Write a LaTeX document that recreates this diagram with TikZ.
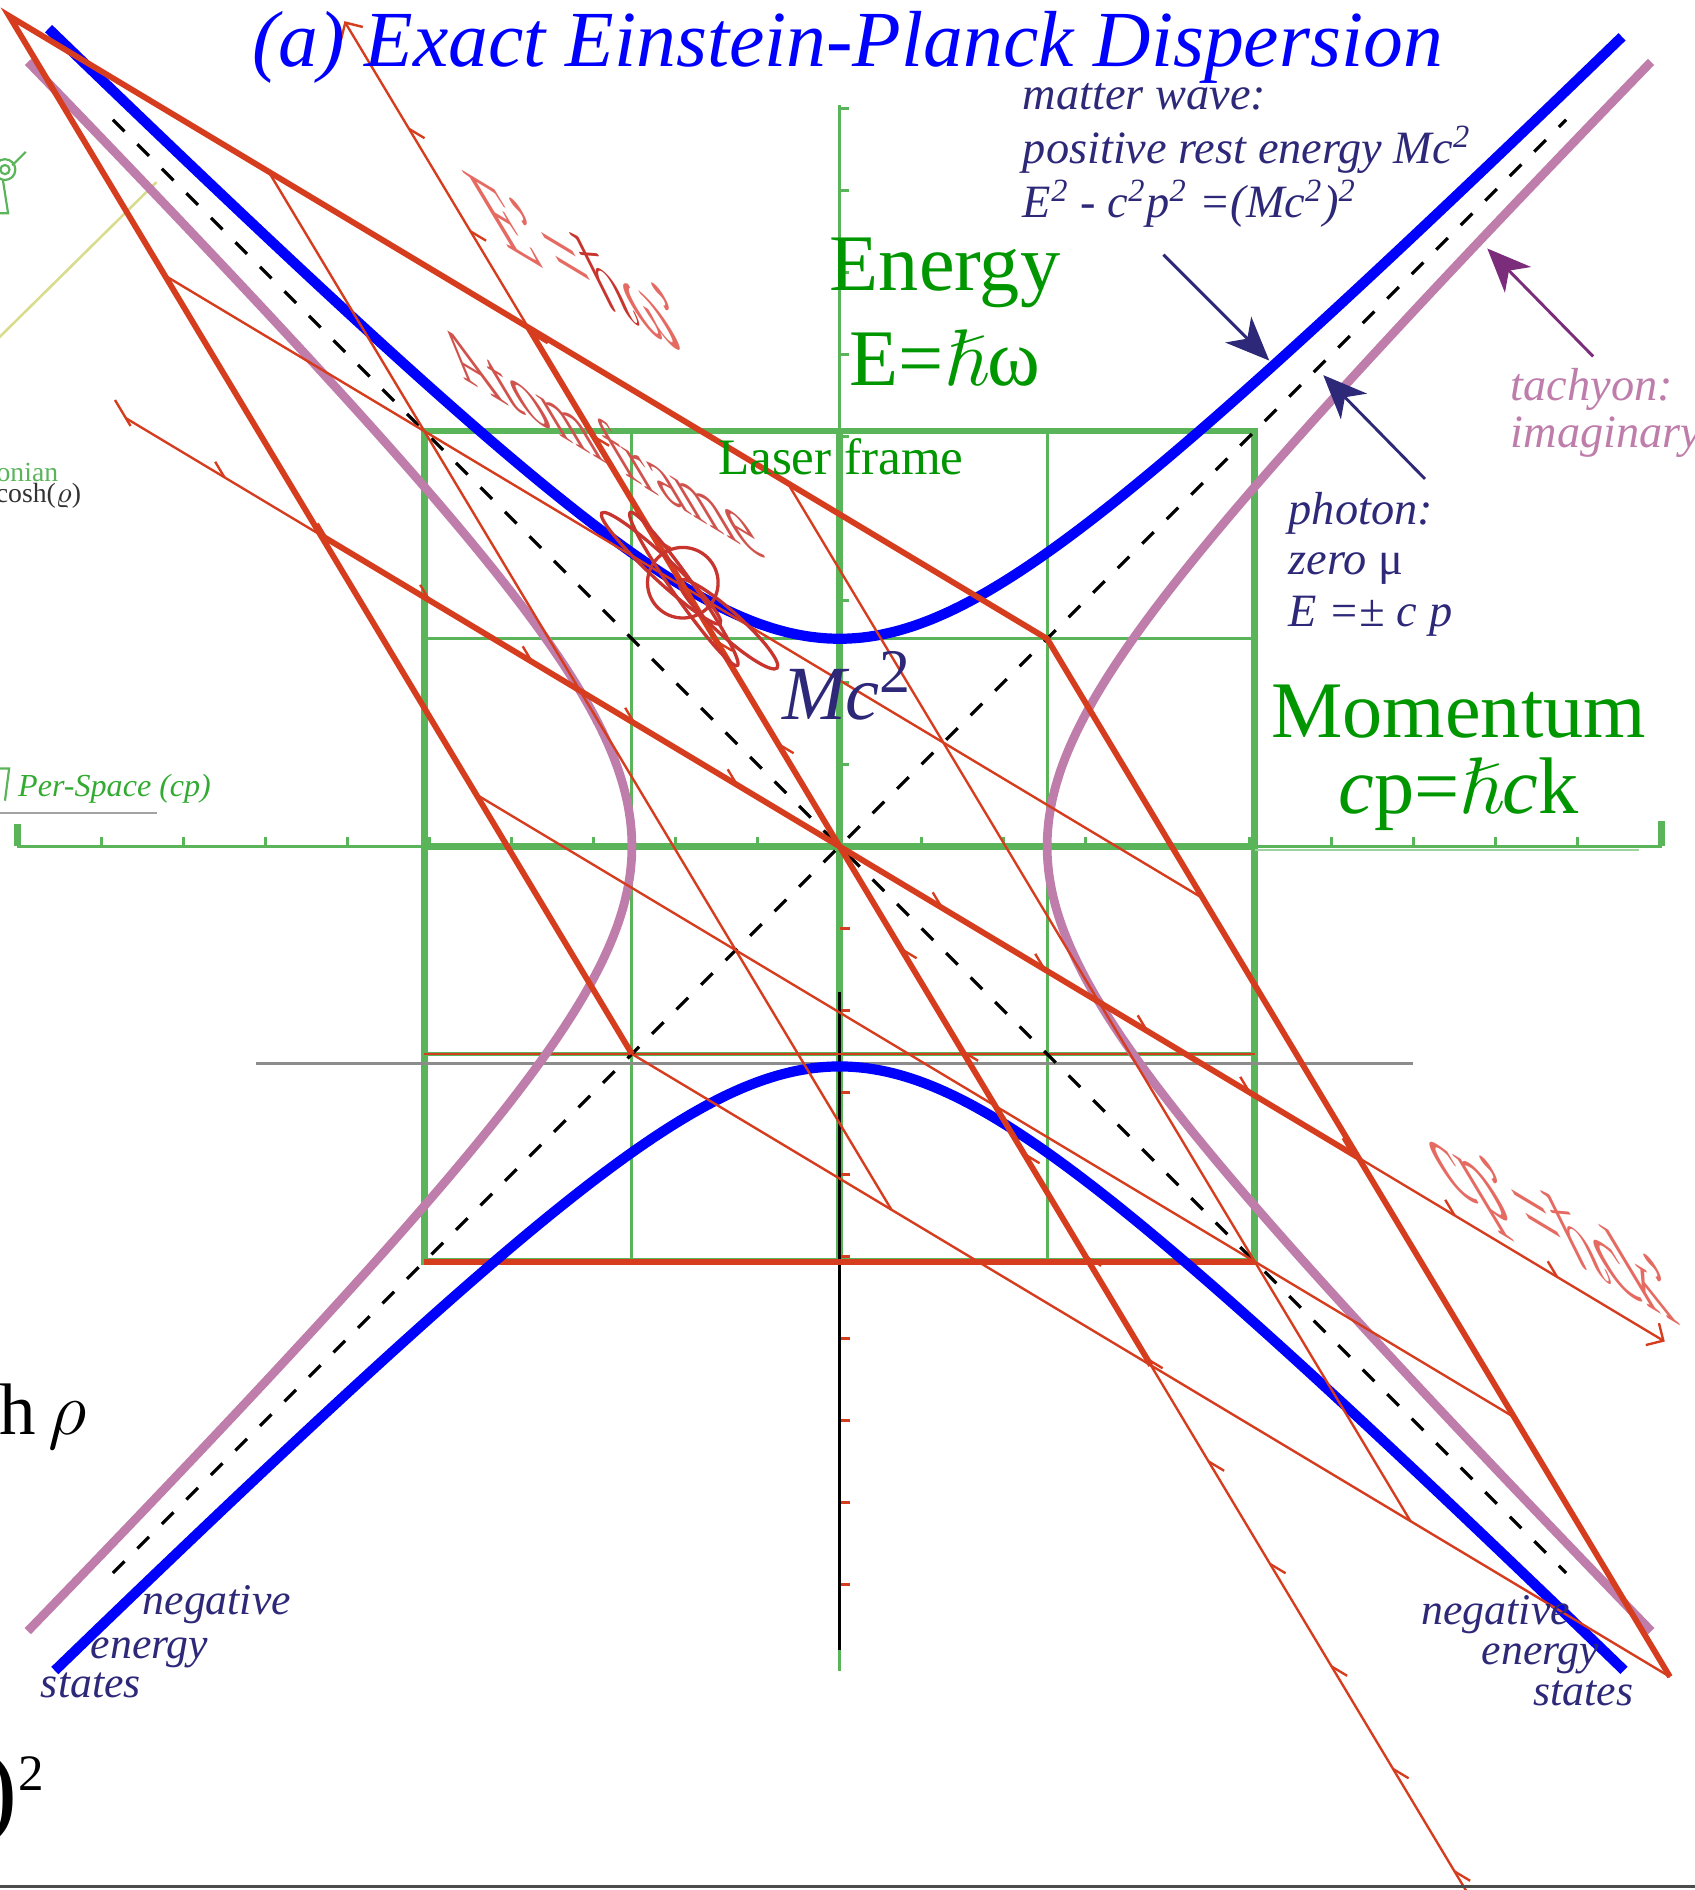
\documentclass[tikz,border=0pt]{standalone}
\usepackage{amsmath,amssymb}
\usepackage{fontspec}
\setmainfont{Liberation Serif}
\usetikzlibrary{arrows.meta, positioning, calc}
\definecolor{matterblue}{HTML}{0000FF}
\definecolor{tachmauve}{HTML}{BE7DAA}
\definecolor{tachplum}{HTML}{7B2D7B}
\definecolor{atomred}{HTML}{D63C1E}
\definecolor{orbitred}{HTML}{C8342E}
\definecolor{paleatom}{HTML}{E46A62}
\definecolor{gridgreen}{HTML}{5AB45A}
\definecolor{labelgreen}{HTML}{009600}
\definecolor{notenavy}{HTML}{2D2878}
\definecolor{axisgray}{HTML}{8C8C8C}
\definecolor{paleyellow}{HTML}{D8DC8C}
\newcommand{\setfs}[2]{\fontsize{#1}{#2}\selectfont}
\tikzset{
  matter/.style={matterblue, line width=2.8pt},
  tachyon/.style={tachmauve, line width=2.4pt},
  lightcone/.style={black, line width=0.9pt, dash pattern=on 4.5pt off 5pt},
  labthick/.style={gridgreen, line width=1.8pt},
  labthin/.style={gridgreen, line width=0.85pt},
  atomthick/.style={atomred, line width=1.6pt},
  atomthin/.style={atomred, line width=0.65pt},
  orbit/.style={orbitred, line width=0.9pt},
  boost/.style={cm={1.25,-0.75,-0.75,1.25,(0,0)}},
  pointer/.style={-{Stealth[length=12pt, width=10pt, inset=3.5pt]}, line width=0.8pt},
  note/.style={text=notenavy, font=\itshape\setfs{12.7}{15}, inner sep=0pt, anchor=base west},
  corner/.style={note, font=\itshape\setfs{12}{14}},
  biglabel/.style={text=labelgreen, font=\setfs{22}{26}, inner sep=0pt, anchor=base},
  primelabel/.style={transform shape, inner sep=0pt, anchor=base west},
}

\begin{document}
\begin{tikzpicture}[x=2cm, y=2cm]
  \useasboundingbox (-4.044,-5.027) rectangle (4.120,4.077);
  \clip (-4.044,-5.027) rectangle (4.120,4.077);

  % Cut-off pieces of the neighbouring panel
  \draw[paleyellow, line width=0.7pt] (-3.29,3.20) -- (-4.1,2.40);
  \draw[gridgreen, line width=0.6pt] (-4.02,3.26) circle (0.05) (-4.02,3.26) circle (0.022);
  \draw[gridgreen, line width=0.6pt] (-3.985,3.28) -- (-3.92,3.345);
  \draw[gridgreen, line width=0.6pt] (-4.03,3.21) -- (-4.005,3.05) -- (-4.06,3.05);
  \node[text=gridgreen, font=\setfs{7.6}{9}, inner sep=0pt, anchor=base east] (hamlbl) at (-3.76,1.76) {onian};
  \node[text=black!80, font=\setfs{7.6}{9}, inner sep=0pt, anchor=base east] (coshlbl) at (-3.65,1.655) {cosh($\varrho$)};
  \draw[gridgreen, line width=0.6pt] (-4.06,0.375) -- (-4.0,0.375) -- (-4.02,0.22);
  \node[text=labelgreen!80, font=\itshape\setfs{8.8}{11}, inner sep=0pt, anchor=base west] (perspace) at (-3.96,0.24) {Per-Space (cp)};
  \draw[axisgray!80, line width=0.6pt] (-4.06,0.16) -- (-3.29,0.16);
  \node[font=\setfs{20}{24}, inner sep=0pt, anchor=base east] (rapid) at (-3.625,-2.834) {sinh\,$\rho$};
  \node[font=\setfs{29}{32}, inner sep=0pt, anchor=base east] (square) at (-3.83,-4.71) {)\raisebox{0.32cm}{\setfs{14}{16}2}};

  % Laser frame grid
  \foreach \v in {-1,1} {
    \draw[labthin] (\v,-2) -- (\v,2);
    \draw[labthin] (-2,\v) -- (2,\v);
  }
  \draw[labthick] (-2,-2) rectangle (2,2);
  \draw[labthick] (-2,0) -- (2,0);
  \draw[labthick] (0,-2) -- (0,2);

  % Energy and momentum axes
  \draw[labthin] (-3.96,0) -- (3.96,0);
  \draw[gridgreen!60, line width=0.5pt] (2,-0.018) -- (3.85,-0.018);
  \draw[labthin] (0,-3.97) -- (0,3.57);
  \foreach \k in {1,...,9} {
    \draw[labthin] (\k*0.395,0) -- ++(0,0.045);
    \draw[labthin] (-\k*0.395,0) -- ++(0,0.045);
    \draw[labthin] (0,\k*0.395) -- ++(0.045,0);
    \draw[atomred, line width=0.9pt] (0,-\k*0.395) -- ++(0.05,0);
  }
  \draw[labthick] (-3.96,0) -- ++(0,0.11);
  \draw[labthick] (3.96,0) -- ++(0,0.12);
  \draw[axisgray, line width=0.8pt] (-2.81,-1.044) -- (2.76,-1.044);
  \draw[black, line width=0.9pt] (0,-0.70) -- (0,-3.87);
  \draw[atomthin] (-2,-1) -- (2,-1);
  \draw[atomthick] (-2,-2) -- (2,-2);

  % Light cone
  \draw[lightcone] (-3.5,3.5) -- (3.5,-3.5);
  \draw[lightcone] (-3.5,-3.5) -- (3.5,3.5);

  % Dispersion branches
  \draw[tachyon] plot[domain=-3.78:3.78, samples=90, smooth] ({sqrt(1+\x*\x)},\x);
  \draw[tachyon] plot[domain=-3.78:3.78, samples=90, smooth] ({-sqrt(1+\x*\x)},\x);
  \draw[matter] plot[domain=-3.81:3.77, samples=90, smooth] (\x,{sqrt(1+\x*\x)});
  \draw[matter] plot[domain=-3.78:3.78, samples=90, smooth] (\x,{-sqrt(1+\x*\x)-0.06});

  % Atom frame: the laser grid seen after the boost
  \begin{scope}[boost]
    \foreach \v in {-1,1} {
      \draw[atomthin] (-2,\v) -- (2,\v);
      \draw[atomthin] (\v,-2) -- (\v,2);
    }
    \draw[atomthin] (-2,-2) -- (2,-2);
    \draw[atomthick] (2,-2) -- (2,2) -- (-2,2) -- (-2,-2);
    \draw[atomthick] (-2,0) -- (2,0);
    \draw[atomthick] (0,-2) -- (0,2);
    \draw[atomthin, -{Straight Barb[length=3.5pt, width=7pt]}] (-2.75,0) -- (3.18,0);
    \draw[atomthin, -{Straight Barb[length=3.5pt, width=7pt]}] (0,-4.3) -- (0,3.18);
    \draw[atomthin] (-2.75,-0.03) -- (-2.75,0.07);
    \foreach \k in {-6,-5,-4,-3,-2,-1,1,2,3,4,5,6,7}
      \draw[atomthin] (\k*0.395,0) -- ++(0,0.06);
    \foreach \k in {-10,-9,-8,-7,-6,-5,-4,-3,-2,-1,1,2,3,4,5,6,7}
      \draw[atomthin] (0,\k*0.395) -- ++(0.06,0);
    \begin{scope}[shift={(0.16,2.41)}, xscale=0.57]
      \node[primelabel, text=paleatom, font=\setfs{26}{30}] (ehw) at (0,0) {E'=\textcolor{orbitred}{$\hslash$}ω'};
    \end{scope}
    \begin{scope}[shift={(-0.57,1.46)}, xscale=0.69]
      \node[primelabel, text=orbitred!85, font=\setfs{20}{24}] (atomlbl) at (0,0) {Atom frame};
    \end{scope}
    \begin{scope}[shift={(2.45,0.15)}, xscale=0.58]
      \node[primelabel, text=paleatom, font=\setfs{26}{30}] (chk) at (0,0) {cp'=$\hslash$ck'};
    \end{scope}
  \end{scope}

  % Atom at rest on the matter branch
  \coordinate (atom) at (-0.755,1.27);
  \draw[orbit] (atom) circle (0.17);
  \draw[orbit, rotate around={-43:(-0.86,1.34)}] (-0.86,1.34) ellipse (0.39 and 0.055);
  \draw[orbit, rotate around={-55:(-0.75,1.24)}] (-0.75,1.24) ellipse (0.45 and 0.05);
  \draw[orbit, rotate around={-42:(-0.535,1.07)}] (-0.535,1.07) ellipse (0.315 and 0.06);

  % Titles and axis labels
  \node[text=matterblue, font=\itshape\setfs{21.8}{26}, inner sep=0pt, anchor=base] (title) at (0.038,3.757) {(a) Exact Einstein-Planck Dispersion};
  \node[biglabel] (energy) at (0.508,2.68) {Energy};
  \node[biglabel] (ehbar) at (0.508,2.22) {E=$\hslash$ω};
  \node[biglabel] (momentum) at (2.982,0.523) {Momentum};
  \node[biglabel] (cphbar) at (2.982,0.157) {\textit{c}p=$\hslash$\textit{c}k};
  \node[text=labelgreen, font=\setfs{14}{16}, inner sep=0pt, anchor=base] (laser) at (0.006,1.79) {Laser frame};
  \node[text=notenavy, font=\itshape\setfs{21}{24}, inner sep=0pt, anchor=base west] (mcsq) at (-0.28,0.61) {Mc\raisebox{0.36em}{\upshape\setfs{17}{20}2}};

  % Notes
  \node[note] (mw1) at (0.88,3.55) {matter wave:};
  \node[note] (mw2) at (0.88,3.29) {positive rest energy Mc\textsuperscript{2}};
  \node[note] (mw3) at (0.88,3.03) {E\textsuperscript{2} - c\textsuperscript{2}p\textsuperscript{2} =(Mc\textsuperscript{2})\textsuperscript{2}};
  \node[note] (ph1) at (2.16,1.55) {photon:};
  \node[note] (ph2) at (2.16,1.31) {zero {\upshape μ}};
  \node[note] (ph3) at (2.16,1.06) {E =± c p};
  \node[note, text=tachmauve] (ty1) at (3.23,2.15) {tachyon:};
  \node[note, text=tachmauve] (ty2) at (3.23,1.92) {imaginary};
  \node[corner] (nl1) at (-3.36,-3.70) {negative};
  \node[corner] (nl2) at (-3.61,-3.91) {energy};
  \node[corner] (nl3) at (-3.85,-4.10) {states};
  \node[corner] (nr1) at (2.80,-3.75) {negative};
  \node[corner] (nr2) at (3.09,-3.94) {energy};
  \node[corner] (nr3) at (3.34,-4.14) {states};

  % Pointers
  \coordinate (mwtail) at (1.56,2.85);
  \coordinate (mwtip) at (2.07,2.34);
  \draw[pointer, notenavy] (mwtail) -- (mwtip);
  \coordinate (phtail) at (2.82,1.77);
  \coordinate (phtip) at (2.33,2.27);
  \draw[pointer, notenavy] (phtail) -- (phtip);
  \coordinate (tytail) at (3.63,2.36);
  \coordinate (tytip) at (3.12,2.88);
  \draw[pointer, tachplum] (tytail) -- (tytip);

  \draw[black!70, line width=0.8pt] (-4.044,-5.012) -- (4.12,-5.012);
\end{tikzpicture}
\end{document}
